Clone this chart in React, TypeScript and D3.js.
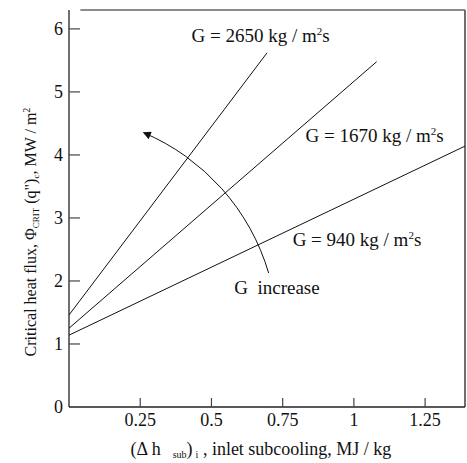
import React from 'react';
import * as d3 from 'd3';

const yTicks = [0, 1, 2, 3, 4, 5, 6];
const xTicks = [0.25, 0.5, 0.75, 1, 1.25];
const xTickLabels = ['0.25', '0.5', '0.75', '1', '1.25'];

const massFluxes = [2650, 1670, 940];
const lineStartY = [1.46, 1.25, 1.14];
const lineEndX = [0.695, 1.08, 1.39];
const lineEndY = [5.62, 5.48, 4.14];
const labelX = [0.43, 0.83, 0.785];
const labelY = [5.8, 4.2, 2.55];

const W = 467;
const H = 463;
const FONT = '"Liberation Serif", "Times New Roman", serif';

export default function App() {
  const x = d3.scaleLinear().domain([0, 1.39]).range([69, 465]);
  const y = d3.scaleLinear().domain([0, 6.3]).range([407, 10]);

  const line = d3.line<[number, number]>()
    .x(d => x(d[0]))
    .y(d => y(d[1]));

  // "G increase" arc, centre given in data units
  const cx = x(-0.04);
  const cy = y(1.14);
  const r = 220;
  const arc = d3.path();
  const a0 = (-16.4 * Math.PI) / 180;
  const a1 = (-67.0 * Math.PI) / 180;
  arc.moveTo(cx + r * Math.cos(a0), cy + r * Math.sin(a0));
  arc.arc(cx, cy, r, a0, a1, true);

  return (
    <svg width={W} height={H} style={{ position: 'absolute', left: 0, top: 0 }}
      fontFamily={FONT} fill="#111">
      <defs>
        <marker id="head" viewBox="0 0 10 10" refX="9" refY="5"
          markerWidth="10" markerHeight="8" markerUnits="userSpaceOnUse" orient="auto">
          <path d="M0,0 L10,5 L0,10 z" fill="#111" />
        </marker>
      </defs>

      {/* frame */}
      <line x1={x(0)} x2={x(0)} y1={y(6.3)} y2={y(0)} stroke="#222" strokeWidth={1.3} />
      <line x1={x(0)} x2={x(1.39)} y1={y(0)} y2={y(0)} stroke="#222" strokeWidth={1.3} />
      <line x1={x(1.39)} x2={x(1.39)} y1={y(6.3)} y2={y(0)} stroke="#222" strokeWidth={1.3} />
      <line x1={x(0.04)} x2={x(1.39)} y1={y(6.3)} y2={y(6.3)} stroke="#666" strokeWidth={1.5} />

      {/* y ticks */}
      {yTicks.map(t => (
        <g key={'y' + t}>
          {t > 0 && <line x1={x(0)} x2={x(0) + 11} y1={y(t)} y2={y(t)} stroke="#444" strokeWidth={1.2} />}
          <text x={x(0) - 6} y={y(t)} dy="0.35em" textAnchor="end" fontSize={18}>{t}</text>
        </g>
      ))}

      {/* x ticks */}
      {xTicks.map((t, i) => (
        <g key={'x' + t}>
          <line x1={x(t)} x2={x(t)} y1={y(0)} y2={y(0) - 9} stroke="#444" strokeWidth={1.2} />
          <text x={x(t)} y={426} textAnchor="middle" fontSize={18}>{xTickLabels[i]}</text>
        </g>
      ))}

      {/* data lines */}
      {massFluxes.map((g, i) => (
        <path key={'l' + g}
          d={line([[0, lineStartY[i]], [lineEndX[i], lineEndY[i]]]) || ''}
          fill="none" stroke="#111" strokeWidth={1} />
      ))}

      {massFluxes.map((g, i) => (
        <text key={'t' + g} x={x(labelX[i])} y={y(labelY[i])} fontSize={19}>
          G = {g} kg / m<tspan fontSize={11} dy={-7}>2</tspan><tspan dy={7}>s</tspan>
        </text>
      ))}

      {/* G increase arrow */}
      <path d={arc.toString()} fill="none" stroke="#111" strokeWidth={1} markerEnd="url(#head)" />
      <text x={x(0.58)} y={y(1.8)} fontSize={19}>G{'\u00a0\u00a0'}increase</text>

      {/* axis titles */}
      <text x={261} y={455} textAnchor="middle" fontSize={18}>
        (Δ h<tspan fontSize={10} dx={12} dy={3}>sub</tspan><tspan dy={-3}>)</tspan>
        <tspan fontSize={10} dx={3} dy={3}>i</tspan><tspan dy={-3}> ,  inlet subcooling, MJ / kg</tspan>
      </text>
      <text transform={`translate(36,232) rotate(-90)`} textAnchor="middle" fontSize={16}>
        Critical heat flux, Φ<tspan fontSize={9} dy={3}>CRIT</tspan><tspan dy={-3}> (q")</tspan>
        <tspan fontSize={9} dy={3}>c</tspan><tspan dy={-3}>,  MW / m</tspan>
        <tspan fontSize={10} dy={-6}>2</tspan>
      </text>
    </svg>
  );
}
